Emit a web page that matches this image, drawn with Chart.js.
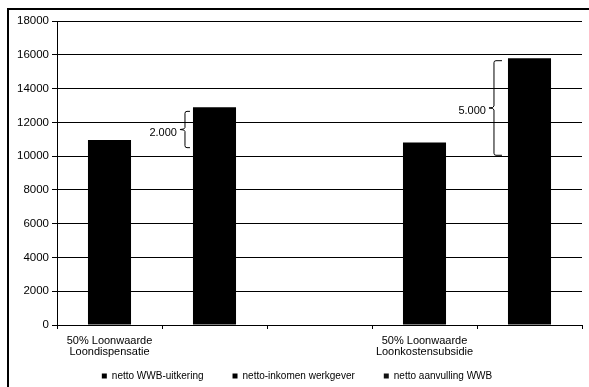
<!DOCTYPE html>
<html>
<head>
<meta charset="utf-8">
<script src="https://cdn.jsdelivr.net/npm/chart.js@4/dist/chart.umd.min.js"></script>
<style>
  html, body { margin: 0; padding: 0; background: #fff; }
  #wrap { width: 589px; height: 387px; }
</style>
</head>
<body>
<div id="wrap"><canvas id="chart" width="589" height="387"></canvas></div>
<script>
// x-as: vijf posities, de middelste blijft leeg
const categories = [["50% Loonwaarde", "Loondispensatie"], "", "", ["50% Loonwaarde", "Loonkostensubsidie"], ""];
const wwbUitkering = [10950, null, null, 10800, null];
const inkomenWerkgever = [null, 12900, null, null, 15800];
const aanvullingWwb = [null, null, null, null, null];
const yTicks = [0, 2000, 4000, 6000, 8000, 10000, 12000, 14000, 16000, 18000];

// accolades met verschil
const braceBars = [1, 4];
const braceLow = [10500, 10050];
const braceHigh = [12650, 15650];
const braceLabels = ["2.000", "5.000"];

// kader rond de grafiek
const framePlugin = {
  id: 'frame',
  beforeDraw(chart) {
    const ctx = chart.ctx;
    ctx.save();
    ctx.fillStyle = '#fff';
    ctx.fillRect(0, 0, chart.width, chart.height);
    ctx.strokeStyle = '#000';
    ctx.lineWidth = 2;
    ctx.beginPath();
    ctx.moveTo(8, chart.height);
    ctx.lineTo(8, 9);
    ctx.lineTo(chart.width, 9);
    ctx.stroke();
    ctx.restore();
  },
  // labels onder de x-as niet afknippen
  afterLayout(chart) {
    chart.scales.x.bottom = chart.height;
  }
};

const bracePlugin = {
  id: 'braces',
  afterDatasetsDraw(chart) {
    const ctx = chart.ctx;
    const y = chart.scales.y;
    const meta = chart.getDatasetMeta(1);
    ctx.save();
    ctx.strokeStyle = '#000';
    ctx.lineWidth = 1;
    braceBars.forEach((idx, i) => {
      const bar = meta.data[idx];
      const xr = bar.x - bar.width / 2 - 3 - i * 3;
      const depth = 5 + i * 3;
      const xs = xr - depth;
      const xt = xs - 5;
      const y1 = y.getPixelForValue(braceHigh[i]);
      const y2 = y.getPixelForValue(braceLow[i]);
      const ym = (y1 + y2) / 2;
      ctx.beginPath();
      ctx.moveTo(xr, y1);
      ctx.lineTo(xs + 2, y1);
      ctx.quadraticCurveTo(xs, y1, xs, y1 + 2);
      ctx.lineTo(xs, ym - 2);
      ctx.quadraticCurveTo(xs, ym, xt, ym);
      ctx.quadraticCurveTo(xs, ym, xs, ym + 2);
      ctx.lineTo(xs, y2 - 2);
      ctx.quadraticCurveTo(xs, y2, xs + 2, y2);
      ctx.lineTo(xr, y2);
      ctx.stroke();
      ctx.fillStyle = '#000';
      ctx.font = '11px "Liberation Sans", Arial, sans-serif';
      ctx.textAlign = 'right';
      ctx.textBaseline = 'middle';
      ctx.fillText(braceLabels[i], xt - 3, ym + 3);
    });
    ctx.restore();
  }
};

const family = '"Liberation Sans", Arial, sans-serif';

new Chart(document.getElementById('chart'), {
  type: 'bar',
  data: {
    labels: categories,
    datasets: [
      { label: 'netto WWB-uitkering', data: wwbUitkering, backgroundColor: '#000' },
      { label: 'netto-inkomen werkgever', data: inkomenWerkgever, backgroundColor: '#000' },
      { label: 'netto aanvulling WWB', data: aanvullingWwb, backgroundColor: '#111' }
    ]
  },
  options: {
    responsive: false,
    animation: false,
    events: [],
    layout: { padding: { left: 12, right: 7, top: 21, bottom: -4 } },
    datasets: { bar: { categoryPercentage: 1, barPercentage: 0.41 } },
    plugins: {
      legend: {
        position: 'bottom',
        labels: { boxWidth: 5, boxHeight: 5, padding: 29, color: '#000',
                  font: { family: family, size: 10 } }
      },
      tooltip: { enabled: false }
    },
    scales: {
      x: {
        stacked: true,
        offset: true,
        grid: { display: true, drawOnChartArea: false, offset: true, color: '#000', tickLength: 4 },
        border: { color: '#000', width: 1 },
        ticks: { autoSkip: false, maxRotation: 0, color: '#000', padding: 6,
                 font: { family: family, size: 11, lineHeight: 1.0 } },
        afterFit(scale) { scale.height = 17; }
      },
      y: {
        stacked: true,
        min: 0,
        max: 18000,
        afterBuildTicks(scale) { scale.ticks = yTicks.map(v => ({ value: v })); },
        grid: { color: '#000', lineWidth: 1, tickLength: 5 },
        border: { color: '#000', width: 1 },
        ticks: { color: '#000', padding: 3, font: { family: family, size: 11.5 },
                 callback: v => String(v) },
        afterFit(scale) { scale.width = 45; }
      }
    }
  },
  plugins: [framePlugin, bracePlugin]
});
</script>
</body>
</html>
